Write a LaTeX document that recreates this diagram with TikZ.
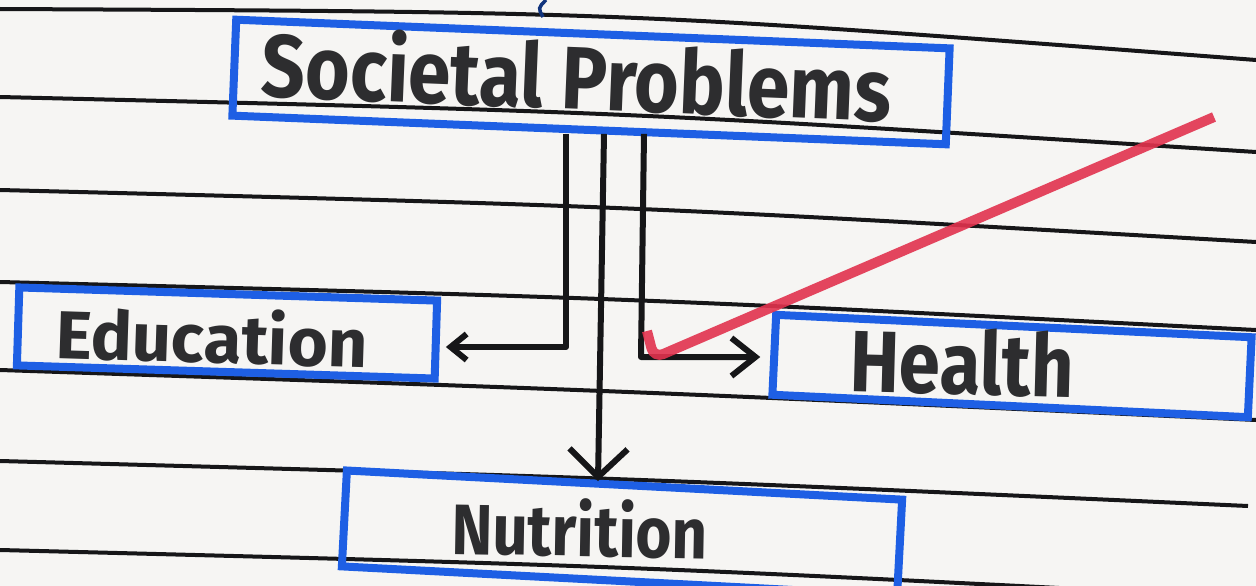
\documentclass[tikz,border=0pt]{standalone}
\usepackage{fontspec}
\newfontfamily\handfont{Fira Sans}
\usetikzlibrary{arrows.meta,calc}
\definecolor{paper}{RGB}{246,245,243}
\definecolor{ink}{RGB}{22,22,24}
\definecolor{bluepen}{RGB}{30,95,228}
\definecolor{redpen}{RGB}{226,50,78}
\begin{document}
\begin{tikzpicture}[x=1pt,y=-1pt,
  rule/.style={draw=ink, line width=4pt},
  box/.style={draw=bluepen, line width=8pt, rectangle, inner sep=0pt},
  lbl/.style={text=ink!90, inner sep=0pt, font=\handfont\bfseries},
  conn/.style={draw=ink, line width=6pt, line join=round}]
\fill[paper] (0,0) rectangle (1256,586);
\useasboundingbox (0,0) rectangle (1256,586);
\clip (0,0) rectangle (1256,586);
% ruled paper lines
\draw[rule] (0,9) .. controls (628,12) .. (1256,60);
\draw[rule] (0,97) .. controls (628,112) .. (1256,152);
\draw[rule] (0,190) .. controls (628,206) .. (1256,242);
\draw[rule] (0,282) .. controls (628,298) .. (1256,330);
\draw[rule] (0,370) .. controls (628,391) .. (1256,420);
\draw[rule] (0,461) .. controls (624,478) .. (1248,506);
\draw[rule] (0,550) .. controls (628,566) .. (1256,598);
% small pen stroke at top
\draw[bluepen!55!black, line width=3.5pt] (546,0) .. controls (538,8) .. (543,17);
% boxes
\node[box, minimum width=714pt, minimum height=96pt, rotate=-2.3] (soc) at (591,82) {};
\node[box, minimum width=418pt, minimum height=78pt, rotate=-1.8] (edu) at (227,333) {};
\node[box, minimum width=476pt, minimum height=80pt, rotate=-2.7] (hea) at (1012,366) {};
\node[box, minimum width=556pt, minimum height=96pt, rotate=-3.0] (nut) at (622,533) {};
% labels
\node[lbl, rotate=-2.3] (socT) at (577,74) {\resizebox{630pt}{72pt}{Societal Problems}};
\node[lbl, rotate=-1.8] (eduT) at (212,336) {\resizebox{312pt}{55pt}{Education}};
\node[lbl, rotate=-1.5] (heaT) at (962,362) {\resizebox{224pt}{66pt}{Health}};
\node[lbl, rotate=-1.0] (nutT) at (580,528) {\resizebox{256pt}{58pt}{Nutrition}};
% connectors
\coordinate (eJ) at (566,347);
\coordinate (nx1) at (604,0);
\coordinate (nx2) at (598,0);
\coordinate (hx) at (644,0);
\coordinate (hJ) at (641,357);
\draw[conn, -{Straight Barb[length=16pt,width=26pt,line width=6pt]}, shorten >=6pt]
  (eJ |- soc.south) -- (eJ) -- (eJ -| edu.east);
\draw[conn, -{Straight Barb[length=28pt,width=58pt,line width=6pt]}]
  (nx1 |- soc.south) -- (nx2 |- nut.north);
\draw[conn, -{Straight Barb[length=24pt,width=38pt,line width=6pt]}, shorten >=10pt]
  (hx |- soc.south) -- (hJ) -- (hJ -| hea.west);
% red check mark
\coordinate (r1) at (647,331);
\coordinate (r2) at (654,358);
\coordinate (r3) at (1214,117);
\draw[redpen, line width=10pt, opacity=0.9, rounded corners=10pt] (r1) -- (r2) -- (r3);
\end{tikzpicture}
\end{document}
